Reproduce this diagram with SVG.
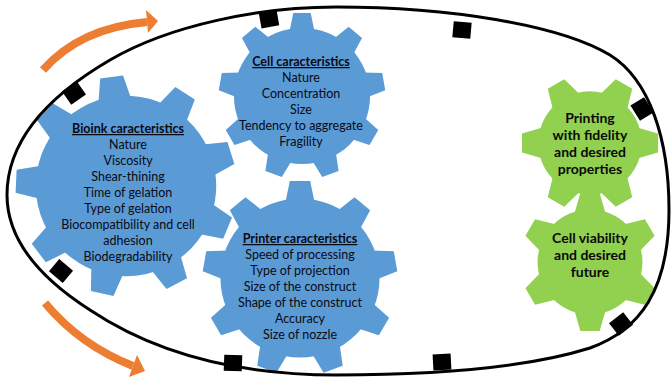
<svg xmlns="http://www.w3.org/2000/svg" xmlns:xlink="http://www.w3.org/1999/xlink" width="672" height="383" viewBox="0 0 672 383">
<style>
.blue{fill:#5B9BD5}
.green{fill:#92D050}
.t{font-family:Lato,"Liberation Sans",sans-serif;font-size:12.5px;fill:#0a0a14;text-anchor:middle}
.h{font-weight:bold;text-decoration:underline}
.g{font-family:Lato,"Liberation Sans",sans-serif;font-size:14px;font-weight:bold;fill:#0a0a0a;text-anchor:middle}
.outline{fill:none;stroke:#000;stroke-width:3}
.tab{fill:#000}
.arr{fill:none;stroke:#ED7D31;stroke-width:8}
.head{fill:#ED7D31}
</style>
<defs>
<g id="g9">
<circle r="82"/>
<polygon id="t9" points="-15,-78 -10.5,-100 10.5,-100 15,-78"/>
<use href="#t9" transform="rotate(40)"/>
<use href="#t9" transform="rotate(80)"/>
<use href="#t9" transform="rotate(120)"/>
<use href="#t9" transform="rotate(160)"/>
<use href="#t9" transform="rotate(200)"/>
<use href="#t9" transform="rotate(240)"/>
<use href="#t9" transform="rotate(280)"/>
<use href="#t9" transform="rotate(320)"/>
</g>
<g id="g6">
<circle r="76"/>
<polygon id="t6" points="-22,-72 -14,-100 14,-100 22,-72"/>
<use href="#t6" transform="rotate(60)"/>
<use href="#t6" transform="rotate(120)"/>
<use href="#t6" transform="rotate(180)"/>
<use href="#t6" transform="rotate(240)"/>
<use href="#t6" transform="rotate(300)"/>
</g>
<rect id="tab" x="-9" y="-8" width="18" height="16"/>
</defs>

<g id="bioink">
<use href="#g9" class="blue" transform="translate(126,186) rotate(-7.5) scale(1.1)"/>
<text class="t" x="128" y="133"><tspan class="h">Bioink caracteristics</tspan><tspan x="128" dy="16">Nature</tspan><tspan x="128" dy="16">Viscosity</tspan><tspan x="128" dy="16">Shear-thining</tspan><tspan x="128" dy="16">Time of gelation</tspan><tspan x="128" dy="16">Type of gelation</tspan><tspan x="128" dy="16">Biocompatibility and cell</tspan><tspan x="128" dy="16">adhesion</tspan><tspan x="128" dy="16">Biodegradability</tspan></text>
</g>

<g id="cell">
<use href="#g9" class="blue" transform="translate(302,96) scale(0.83)"/>
<text class="t" x="301" y="66"><tspan class="h">Cell caracteristics</tspan><tspan x="301" dy="16">Nature</tspan><tspan x="301" dy="16">Concentration</tspan><tspan x="301" dy="16">Size</tspan><tspan x="301" dy="16">Tendency to aggregate</tspan><tspan x="301" dy="16">Fragility</tspan></text>
</g>

<g id="printer">
<use href="#g9" class="blue" transform="translate(300,278) scale(0.97)"/>
<text class="t" x="300" y="243"><tspan class="h">Printer caracteristics</tspan><tspan x="300" dy="16">Speed of processing</tspan><tspan x="300" dy="16">Type of projection</tspan><tspan x="300" dy="16">Size of the construct</tspan><tspan x="300" dy="16">Shape of the construct</tspan><tspan x="300" dy="16">Accuracy</tspan><tspan x="300" dy="16">Size of nozzle</tspan></text>
</g>

<g id="printing">
<use href="#g6" class="green" transform="translate(590,143) rotate(30) scale(0.68)"/>
<text class="g" x="590" y="123"><tspan>Printing</tspan><tspan x="590" dy="17">with fidelity</tspan><tspan x="590" dy="17">and desired</tspan><tspan x="590" dy="17">properties</tspan></text>
</g>

<g id="viability">
<use href="#g6" class="green" transform="translate(590,262) scale(0.69)"/>
<text class="g" x="590" y="243"><tspan>Cell viability</tspan><tspan x="590" dy="17">and desired</tspan><tspan x="590" dy="17">future</tspan></text>
</g>

<g id="connectors">
<path class="outline" d="M336,7 C450,7 560,25 610,55 C650,80 669,140 669,210 C669,290 640,330 590,348 C520,370 420,375 336,375 C230,375 150,350 90,310 C40,278 7,240 7,195 C7,140 50,95 110,60 C170,25 260,7 336,7 Z"/>
<use href="#tab" class="tab" transform="translate(269,19) rotate(-10)"/>
<use href="#tab" class="tab" transform="translate(462,30) rotate(5)"/>
<use href="#tab" class="tab" transform="translate(642,109) rotate(58)"/>
<use href="#tab" class="tab" transform="translate(621,324) rotate(-38)"/>
<use href="#tab" class="tab" transform="translate(442,362) rotate(-3)"/>
<use href="#tab" class="tab" transform="translate(233,363) rotate(2)"/>
<use href="#tab" class="tab" transform="translate(61,271) rotate(40)"/>
<use href="#tab" class="tab" transform="translate(74,93) rotate(-35)"/>
<path class="arr" d="M43,70 Q80,28 147,22"/>
<polygon class="head" points="146,10 158,21 148,33"/>
<path class="arr" d="M45,303 Q80,345 133,366"/>
<polygon class="head" points="137,355 145,371 129,377"/>
</g>
</svg>
